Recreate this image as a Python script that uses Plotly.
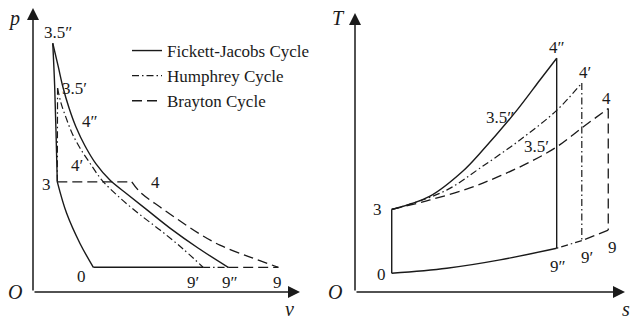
import plotly.graph_objects as go

# ---------------- p-v diagram (specific volume v, pressure p) ----------------
# None separates the individual processes of a cycle
fj_pv_v = [6.37, 2.26, None,
           2.26, 1.76, 1.26, 0.91, None,
           0.91, 0.86, 0.81, 0.74, None,
           0.74, 0.94, 1.12, 1.35, 1.61, 1.95, 2.36, 2.88, 3.52, 4.27, 5.13, 6.18, 7.31]
fj_pv_p = [0.87, 0.87, None,
           0.87, 1.71, 2.77, 3.88, None,
           3.88, 5.70, 7.29, 8.76, None,
           8.76, 7.96, 7.22, 6.48, 5.81, 5.14, 4.51, 3.94, 3.45, 2.89, 2.25, 1.55, 0.87]

hu_pv_v = [0.91, 0.92, None,
           0.92, 1.05, 1.24, 1.46, 1.76, 2.13, 2.58, 3.18, 3.93, 4.76, 5.58, 6.37, None,
           6.37, 7.31]
hu_pv_p = [3.88, 7.18, None,
           7.18, 6.65, 6.13, 5.60, 5.07, 4.54, 3.94, 3.38, 2.78, 2.18, 1.55, 0.87, None,
           0.87, 0.87]

br_pv_v = [0.91, 3.70, None,
           3.70, 4.01, 4.76, 5.51, 6.25, 7.00, 8.13, 9.19, None,
           7.31, 9.19]
br_pv_p = [3.88, 3.88, None,
           3.88, 3.52, 2.99, 2.50, 2.04, 1.65, 1.23, 0.87, None,
           0.87, 0.87]

# ---------------- T-s diagram (entropy s, temperature T) ----------------
fj_ts_s = [1.36, 1.36, None,
           1.36, 2.78, 4.00, 4.67, 6.00, 6.85, 7.47, None,
           7.47, 7.47, None,
           7.47, 5.37, 3.40, 1.36]
fj_ts_t = [0.67, 2.96, None,
           2.96, 3.44, 4.34, 5.02, 6.52, 7.60, 8.38, None,
           8.38, 1.57, None,
           1.57, 1.15, 0.85, 0.67]

hu_ts_s = [1.36, 2.04, 3.41, 4.63, 6.11, 7.48, 8.40, None,
           8.40, 8.40, None,
           8.40, 7.47]
hu_ts_t = [2.96, 3.15, 3.66, 4.44, 5.45, 6.52, 7.49, None,
           7.49, 1.84, None,
           1.84, 1.57]

br_ts_s = [1.36, 2.78, 4.26, 5.37, 6.48, 7.47, 8.40, 9.38, None,
           9.38, 9.38, None,
           9.38, 8.40]
br_ts_t = [2.96, 3.30, 3.73, 4.16, 4.66, 5.20, 5.88, 6.58, None,
           6.58, 2.22, None,
           2.22, 1.84]

cycle_names = ["Fickett-Jacobs Cycle", "Humphrey Cycle", "Brayton Cycle"]

# state-point labels: (text, x, y) in each diagram's own units
pv_labels = [("3.5″", 0.94, 9.15), ("3.5′", 1.57, 7.18), ("4″", 2.13, 5.99),
             ("4′", 1.65, 4.47), ("3", 0.51, 3.77), ("4", 4.57, 3.84),
             ("0", 1.82, 0.53), ("9′", 5.99, 0.32), ("9″", 7.38, 0.32),
             ("9", 9.14, 0.32)]
ts_labels = [("3", 0.85, 2.94), ("0", 0.99, 0.61), ("4″", 7.48, 8.78),
             ("4′", 8.52, 7.85), ("4", 9.33, 6.95), ("3.5″", 5.37, 6.27),
             ("3.5′", 6.74, 5.20), ("9″", 7.52, 0.90), ("9′", 8.59, 1.25),
             ("9", 9.52, 1.61)]

INK = "#1a1a1a"
FONT = "Times New Roman, Liberation Serif, DejaVu Serif, serif"
styles = [dict(color=INK, width=1.4, dash="solid"),
          dict(color=INK, width=1.2, dash="7px,3px,1.5px,3px"),
          dict(color=INK, width=1.3, dash="10px,5px")]

fig = go.Figure()

pv_sets = [(fj_pv_v, fj_pv_p), (hu_pv_v, hu_pv_p), (br_pv_v, br_pv_p)]
ts_sets = [(fj_ts_s, fj_ts_t), (hu_ts_s, hu_ts_t), (br_ts_s, br_ts_t)]

for i, name in enumerate(cycle_names):
    xs, ys = pv_sets[i]
    fig.add_trace(go.Scatter(x=xs, y=ys, mode="lines", name=name,
                             legendgroup=name, showlegend=True,
                             line=dict(shape="spline", smoothing=1.0, **styles[i]),
                             connectgaps=False, xaxis="x", yaxis="y",
                             hoverinfo="skip"))
for i, name in enumerate(cycle_names):
    xs, ys = ts_sets[i]
    fig.add_trace(go.Scatter(x=xs, y=ys, mode="lines", name=name,
                             legendgroup=name, showlegend=False,
                             line=dict(shape="spline", smoothing=1.0, **styles[i]),
                             connectgaps=False, xaxis="x2", yaxis="y2",
                             hoverinfo="skip"))

W, H = 633, 322
annotations = []

# axes with arrow heads
for xr, yr in (("x", "y"), ("x2", "y2")):
    for tip in ((0, 10), (10, 0)):
        annotations.append(dict(x=tip[0], y=tip[1], ax=0, ay=0,
                                xref=xr, yref=yr, axref=xr, ayref=yr,
                                text="", showarrow=True, arrowhead=2,
                                arrowsize=1.6, arrowwidth=1.5, arrowcolor=INK,
                                standoff=0, startstandoff=0))

# axis letters
for txt, px, py in (("<i>p</i>", 14, 18), ("<i>O</i>", 15, 292), ("<i>v</i>", 289, 309),
                    ("<i>T</i>", 338, 18), ("<i>O</i>", 335, 292), ("<i>s</i>", 626, 309)):
    annotations.append(dict(x=px / W, y=1 - py / H, xref="paper", yref="paper",
                            xanchor="center", yanchor="middle",
                            text=txt, showarrow=False,
                            font=dict(family=FONT, size=20, color=INK)))

for txt, x, y in pv_labels:
    annotations.append(dict(x=x, y=y, xref="x", yref="y", text=txt, showarrow=False,
                            xanchor="center", yanchor="middle",
                            font=dict(family=FONT, size=17, color=INK)))
for txt, x, y in ts_labels:
    annotations.append(dict(x=x, y=y, xref="x2", yref="y2", text=txt, showarrow=False,
                            xanchor="center", yanchor="middle",
                            font=dict(family=FONT, size=17, color=INK)))

hidden = dict(visible=False, range=[0, 10], fixedrange=True)

fig.update_layout(
    width=W, height=H,
    margin=dict(l=0, r=0, t=0, b=0),
    paper_bgcolor="white", plot_bgcolor="rgba(0,0,0,0)",
    xaxis=dict(domain=[33 / W, 300 / W], **hidden),
    yaxis=dict(domain=[30 / H, 314 / H], **hidden),
    xaxis2=dict(domain=[355 / W, 625 / W], **hidden),
    yaxis2=dict(domain=[30 / H, 309 / H], **hidden),
    annotations=annotations,
    legend=dict(x=127 / W, y=1 - 33 / H, xanchor="left", yanchor="top",
                bgcolor="rgba(0,0,0,0)", borderwidth=0,
                font=dict(family=FONT, size=17, color=INK),
                tracegroupgap=0, itemwidth=30),
    showlegend=True,
)

fig.write_html("out.html")
